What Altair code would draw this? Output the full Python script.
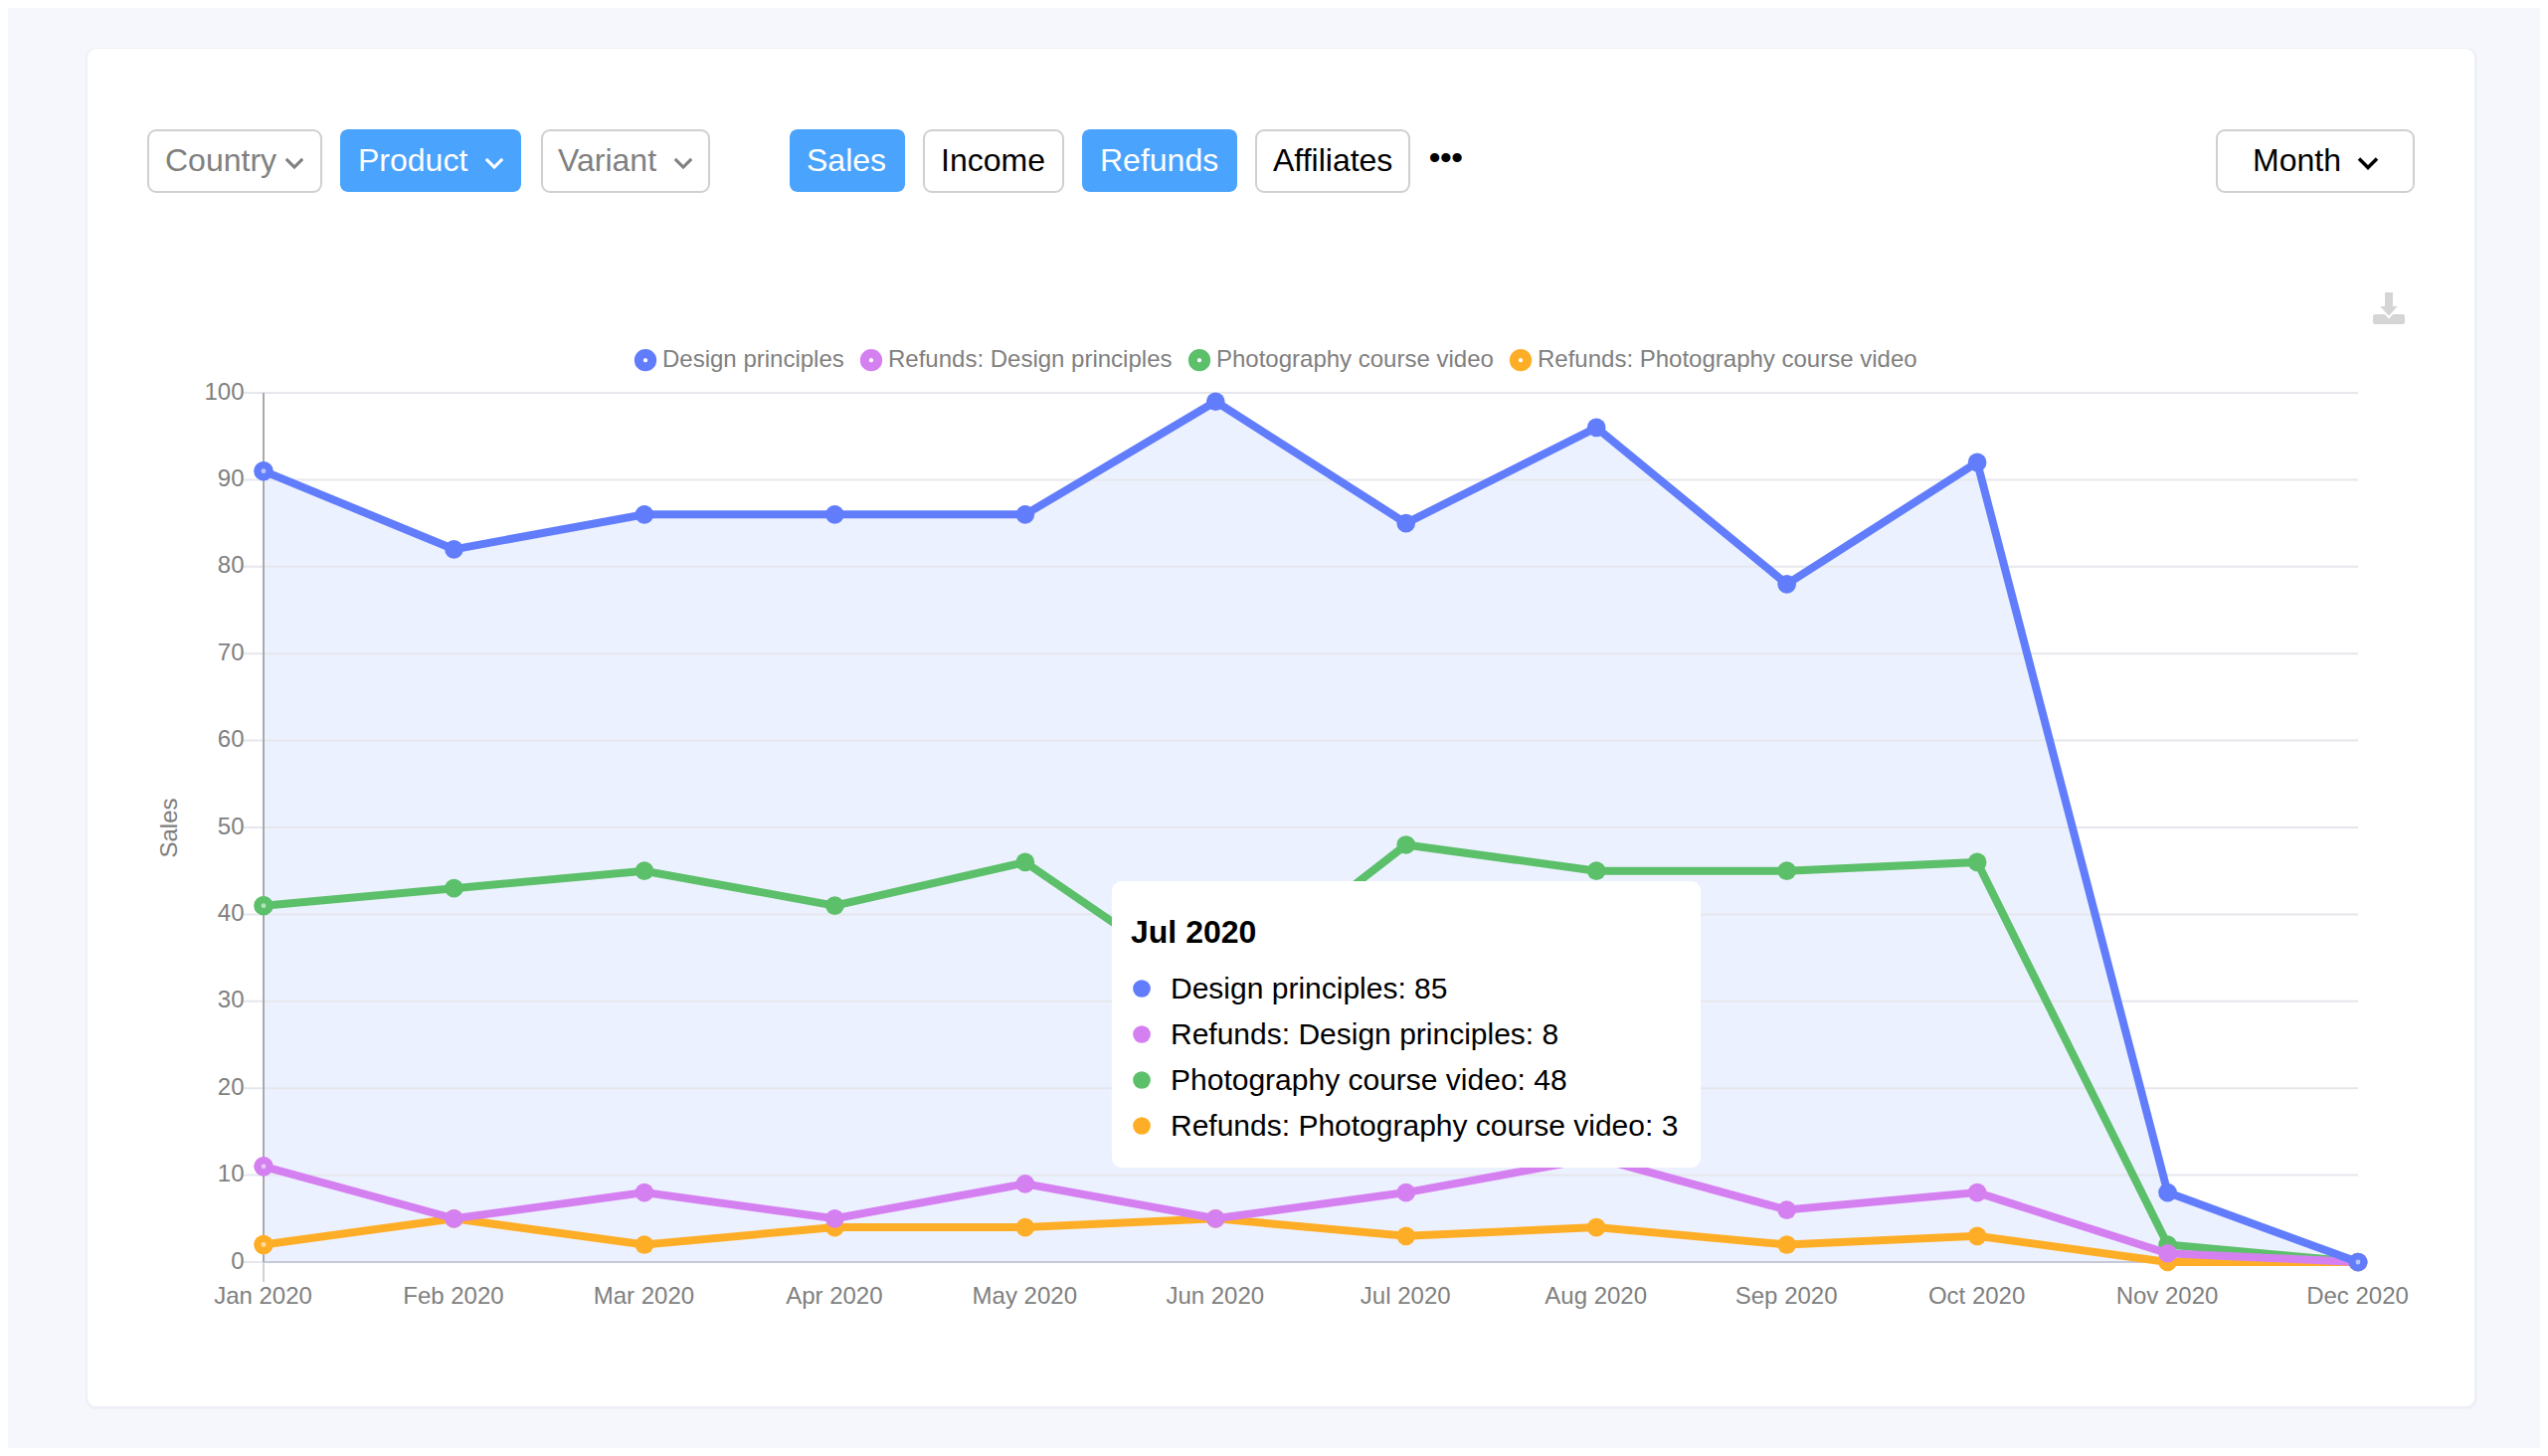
import altair as alt
import pandas as pd

months = ["Jan 2020", "Feb 2020", "Mar 2020", "Apr 2020", "May 2020", "Jun 2020",
          "Jul 2020", "Aug 2020", "Sep 2020", "Oct 2020", "Nov 2020", "Dec 2020"]
series_names = ["Design principles", "Refunds: Design principles",
                "Photography course video", "Refunds: Photography course video"]
design = [91, 82, 86, 86, 86, 99, 85, 96, 78, 92, 8, 0]
refunds_design = [11, 5, 8, 5, 9, 5, 8, 12, 6, 8, 1, 0]
photo = [41, 43, 45, 41, 46, 31, 48, 45, 45, 46, 2, 0]
refunds_photo = [2, 5, 2, 4, 4, 5, 3, 4, 2, 3, 0, 0]
series_values = [design, refunds_design, photo, refunds_photo]
series_colors = ["#617dfb", "#d580f0", "#5cbf6a", "#feae26"]
y_ticks = [0, 10, 20, 30, 40, 50, 60, 70, 80, 90, 100]
tooltip_month = "Jul 2020"

FONT = "Liberation Sans"
GREY = "#7f7f7f"
PAGE_BG = "#f5f7fc"
BLUE = "#4aa3fc"
BORDER = "#d0d0d0"
PLOT_W, PLOT_H = 2106, 874
OX, OY = 265, 395


def px(v):
    return v - OX


def py(v):
    return v - OY


df = pd.DataFrame([
    {"series": s, "month": m, "value": v}
    for s, vals in zip(series_names, series_values)
    for m, v in zip(months, vals)
])
grid_df = pd.DataFrame({"value": y_ticks})

X = alt.X("month:N", sort=months,
          scale=alt.Scale(type="point", domain=months, padding=0),
          axis=alt.Axis(title=None, domain=False, ticks=False, grid=False, labelAngle=0,
                        labelFont=FONT, labelFontSize=24, labelColor=GREY, labelPadding=22,
                        labelOffset=-1, labelOverlap=False, labelBound=False, labelFlush=False,
                        zindex=1))
Y = alt.Y("value:Q", scale=alt.Scale(domain=[0, 100], nice=False, zero=True),
          axis=alt.Axis(title="Sales", domain=False, ticks=False, grid=False, values=y_ticks,
                        labelFont=FONT, labelFontSize=24, labelColor=GREY, labelPadding=20,
                        labelOffset=-1,
                        titleFont=FONT, titleFontSize=24, titleColor=GREY, titleFontWeight="normal",
                        titlePadding=22, zindex=1))

one = alt.Data(values=[{"k": 0}])
layers = []


def box(x0, x1, y0, y1, radius=8, **kw):
    layers.append(alt.Chart(one).mark_rect(cornerRadius=radius, **kw).encode(
        x=alt.value(px(x0)), x2=alt.value(px(x1)), y=alt.value(py(y0)), y2=alt.value(py(y1))))


def label(txt, x, y, color="#000000", size=32, weight="normal", align="left"):
    layers.append(alt.Chart(one).mark_text(
        text=txt, font=FONT, fontSize=size, fontWeight=weight, color=color,
        align=align, baseline="alphabetic").encode(x=alt.value(px(x)), y=alt.value(py(y))))


def chevron(x, y, color, size=324, width=3.5):
    layers.append(alt.Chart(one).mark_point(
        shape="M-1 -0.5 L0 0.5 L1 -0.5", filled=False, size=size, color=color, opacity=1,
        strokeWidth=width).encode(x=alt.value(px(x)), y=alt.value(py(y))))


# card
box(86, 2491, 48, 1417, radius=10, color="#eef0f7")
box(88, 2488, 49, 1414, radius=9, color="#ffffff")

# toolbar
for txt, x0, x1, tx, active, fg in [
    ("Country", 149, 323, 166, False, "#808080"),
    ("Product", 342, 524, 360, True, "#ffffff"),
    ("Variant", 545, 713, 561, False, "#808080"),
    ("Sales", 794, 910, 811, True, "#ffffff"),
    ("Income", 929, 1069, 946, False, "#000000"),
    ("Refunds", 1088, 1244, 1106, True, "#ffffff"),
    ("Affiliates", 1263, 1417, 1280, False, "#000000"),
    ("Month", 2229, 2427, 2265, False, "#000000"),
]:
    if active:
        box(x0, x1, 130, 193, radius=8, color=BLUE)
    else:
        box(x0, x1, 131, 193, radius=8, fill="#ffffff", stroke=BORDER, strokeWidth=2)
    label(txt, tx, 172, fg)
chevron(296, 164, "#808080", size=270, width=3)
chevron(497, 164, "#ffffff", size=270, width=3)
chevron(687, 164, "#808080", size=270, width=3)
chevron(2381, 164, "#000000")
label("•••", 1437, 169, "#000000", size=32, weight="bold")

# export icon
box(2386, 2418, 316, 326, radius=2, color="#d5d5d5")
box(2398, 2406, 294, 308, radius=1, color="#d5d5d5")
layers.append(alt.Chart(one).mark_point(
    shape="M-1 -0.55 L1 -0.55 L0 0.55 Z", filled=True, size=484, color="#d5d5d5", opacity=1,
    stroke="#ffffff", strokeWidth=2).encode(x=alt.value(px(2402)), y=alt.value(py(313))))
box(2398, 2406, 294, 309, radius=1, color="#d5d5d5")

# area under the first series
layers.append(alt.Chart(df[df.series == series_names[0]]).mark_area(
    color="#ecf1ff", opacity=1, line=False, interpolate="linear").encode(x=X, y=Y))

# grid and axis lines
layers.append(alt.Chart(grid_df).mark_rule(color="#e6e7ec", strokeWidth=2).encode(
    y=Y, x=alt.value(-20), x2=alt.value(PLOT_W)))
layers.append(alt.Chart(grid_df[grid_df.value == 0]).mark_rule(color="#c5c8d6", strokeWidth=2).encode(
    y=Y, x=alt.value(0), x2=alt.value(PLOT_W)))
first = pd.DataFrame({"month": [months[0]]})
layers.append(alt.Chart(first).mark_rule(color="#a9a9ae", strokeWidth=2).encode(
    x=X, y=alt.value(0), y2=alt.value(PLOT_H)))
layers.append(alt.Chart(first).mark_rule(color="#d2d2d2", strokeWidth=2).encode(
    x=X, y=alt.value(PLOT_H), y2=alt.value(PLOT_H + 20)))

# series, bottom to top
for i in [3, 2, 1, 0]:
    sub = df[df.series == series_names[i]]
    layers.append(alt.Chart(sub).mark_line(
        color=series_colors[i], strokeWidth=8, interpolate="linear", strokeCap="round").encode(x=X, y=Y))
    layers.append(alt.Chart(sub).mark_circle(
        color=series_colors[i], size=350, opacity=1).encode(x=X, y=Y))

# ring markers carry the legend
layers.append(alt.Chart(df[df.month == months[0]]).mark_point(
    filled=False, size=133, strokeWidth=8, opacity=1).encode(
    x=X, y=Y,
    stroke=alt.Stroke("series:N", sort=series_names,
                      scale=alt.Scale(domain=series_names, range=series_colors),
                      legend=alt.Legend(
                          title=None, orient="none", legendX=372, legendY=-45, direction="horizontal",
                          columns=4, padding=0, labelFont=FONT, labelFontSize=24, labelColor=GREY,
                          symbolType="circle", symbolSize=177, symbolStrokeWidth=9,
                          symbolFillColor="#ffffff", symbolOpacity=1, labelOffset=5,
                          columnPadding=2, labelLimit=600))))
pale = pd.concat([df[df.month == months[0]],
                  df[(df.month == months[-1]) & (df.series == series_names[0])]])
layers.append(alt.Chart(pale).mark_circle(color="#ffffff", size=24, opacity=0.55).encode(x=X, y=Y))

# hover card
box(1118, 1710, 886, 1174, radius=10, color="#ffffff")
label(tooltip_month, 1137, 948, size=32, weight="bold")
tip_i = months.index(tooltip_month)
for i, (name, vals, col, dot_y, base_y) in enumerate(zip(
        series_names, series_values, series_colors,
        [994, 1040, 1086, 1132], [1004, 1050, 1096, 1142])):
    layers.append(alt.Chart(one).mark_circle(color=col, size=314, opacity=1).encode(
        x=alt.value(px(1148)), y=alt.value(py(dot_y))))
    label(f"{name}: {vals[tip_i]}", 1177, base_y, size=30)

chart = alt.layer(*layers).resolve_scale(x="shared", y="shared").properties(
    width=PLOT_W, height=PLOT_H,
    background=PAGE_BG,
    padding={"left": 257, "top": 387, "right": 183, "bottom": 187},
    autosize=alt.AutoSizeParams(type="none"),
).configure_view(stroke=None)

chart.save("out.html", embed_options={"renderer": "svg", "actions": False})
